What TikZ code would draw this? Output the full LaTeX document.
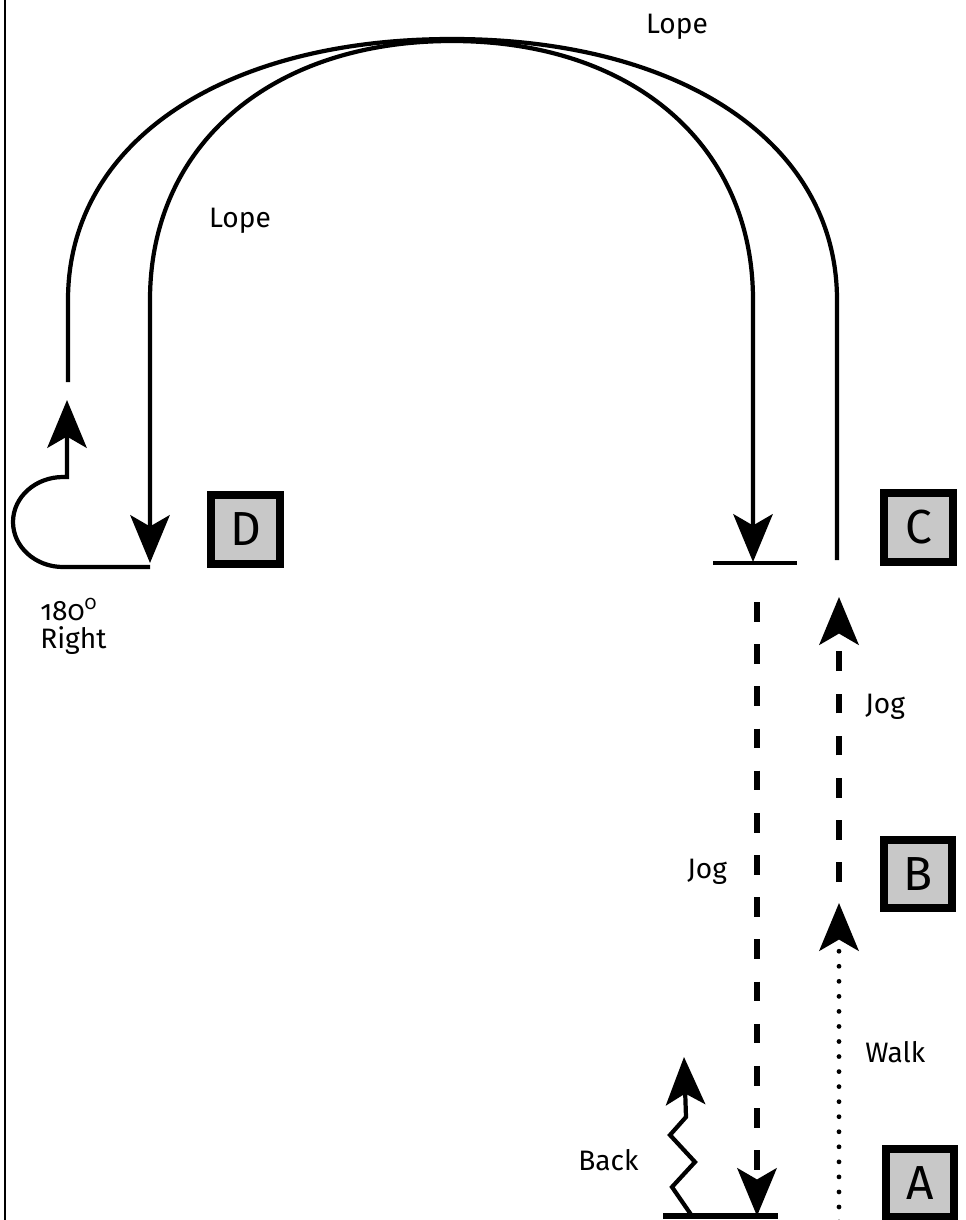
\documentclass[tikz,border=0pt]{standalone}
\usepackage{fontspec}
\setmainfont{Fira Sans}
\usetikzlibrary{arrows.meta}
\definecolor{boxgray}{HTML}{C8C8C8}
\tikzset{
	gaitlabel/.style={font=\fontsize{20}{24}\selectfont, inner sep=0pt}
}
\tikzset{
	marker/.style={draw, line width=5.7pt, fill=boxgray, minimum size=49pt,
	  inner sep=0pt, font=\fontsize{34}{36}\selectfont}
}
\tikzset{
	track/.style={line width=3pt},
	jogline/.style={line width=3.6pt, dash pattern=on 14pt off 16pt},
	walkline/.style={line width=3.4pt, line cap=round, dash pattern=on 0pt off 10.7pt}
}

\begin{document}
\begin{tikzpicture}[x=0.25mm, y=-0.25mm,
    >={Stealth[length=34pt, width=28pt, inset=8pt]}]
      \useasboundingbox (0,0) rectangle (966,1220);
      \draw[line width=1.1pt] (5,0) -- (5,1220);
      % markers
      \foreach \n/\x/\y in {D/245.5/529.5, C/918.5/527.5, B/918/874, A/920/1183}
        \node[marker] (mark\n) at (\x,\y) {\n};
      % labels
      \node[gaitlabel, anchor=base] (lopeout) at (677,33) {Lope};
      \node[gaitlabel, anchor=base] (lopein) at (240,227) {Lope};
      \node[gaitlabel, anchor=base west] (turndeg) at (40,620)
        {\addfontfeatures{Numbers=OldStyle}180\textsuperscript{0}};
      \node[gaitlabel, anchor=base west] (turndir) at (40,648) {Right};
      \node[gaitlabel, anchor=base west] (jogup) at (865,713) {Jog};
      \node[gaitlabel, anchor=base west] (jogdown) at (687,878) {Jog};
      \node[gaitlabel, anchor=base west] (walk) at (865,1062) {Walk};
      \node[gaitlabel, anchor=base west] (back) at (578,1170) {Back};
      % stop lines at C and A
      \coordinate (stopCl) at (713,563);
      \coordinate (stopCr) at (797,563);
      \coordinate (stopAl) at (663,1216);
      \coordinate (stopAr) at (778,1216);
      \draw[track] (stopCl) -- (stopCr);
      \draw[line width=4.5pt] (stopAl) -- (stopAr);
      % outer lope from C round to the left
      \coordinate (outerL) at (68,382);
      \coordinate (outerR) at (837,560);
      \draw[track] (outerL) -- (68,300)
        .. controls (68,143) and (222,39) .. (452,39)
        .. controls (682,39) and (837,143) .. (837,300) -- (outerR);
      % inner lope down to C and down to D
      \coordinate (innerR) at (753,562);
      \coordinate (innerL) at (150,563);
      \draw[track, <->] (innerR) -- (753,300)
        .. controls (753,145) and (633,41) .. (452,41)
        .. controls (271,41) and (150,145) .. (150,300) -- (innerL);
      % 180 turn at D
      \coordinate (turnend) at (67,400);
      \draw[track, ->] (innerL |- 0,567) -- (63,567)
        arc[start angle=90, end angle=270, x radius=50, y radius=45]
        -- (67,477) -- (turnend);
      % jog down from C to A, jog up from B to C
      \coordinate (jogdtop) at (757,602);
      \coordinate (jogutop) at (839,597);
      \coordinate (jogubot) at (839,882);
      \draw[jogline, ->] (jogdtop) -- (jogdtop |- stopAl);
      \draw[jogline, ->] (jogubot) -- (jogutop);
      % walk from A to B
      \coordinate (walkbot) at (839,1222);
      \coordinate (walktop) at (839,903);
      \draw[walkline, ->] (walkbot) -- (walktop);
      % back up from the line at A
      \coordinate (backbot) at (692,1216);
      \coordinate (backtop) at (684,1057);
      \draw[track, ->] (backbot) -- (672,1187) -- (695,1162) -- (670,1135)
        -- (686,1117) -- (backtop);
    \end{tikzpicture}
\end{document}
